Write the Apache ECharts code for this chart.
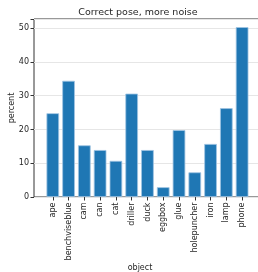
<!DOCTYPE html>
<html>
<head>
<meta charset="utf-8">
<script src="https://cdn.jsdelivr.net/npm/echarts@6/dist/echarts.min.js"></script>
<style>
  html, body { margin: 0; padding: 0; background: #fff; }
  #chart { width: 258px; height: 272px; }
</style>
</head>
<body>
<div id="chart"></div>
<script>
// chart data
var objects = ['ape', 'benchviseblue', 'cam', 'can', 'cat', 'driller', 'duck',
  'eggbox', 'glue', 'holepuncher', 'iron', 'lamp', 'phone'];
var percent = [24.8, 34.4, 15.3, 13.9, 10.7, 30.6, 13.9, 2.9, 19.8, 7.3, 15.7, 26.3, 50.3];
var yTicks = [0, 10, 20, 30, 40, 50];

var font = 'DejaVu Sans';
var textColor = '#262626';

var chart = echarts.init(document.getElementById('chart'));

var option = {
  animation: false,
  backgroundColor: '#fff',
  title: {
    text: 'Correct pose, more noise',
    left: 133,
    top: 3,
    textAlign: 'center',
    textStyle: { fontFamily: font, fontSize: 9.5, fontWeight: 'normal', color: textColor }
  },
  grid: [
    // frame grid: spines + y axis + gridlines
    { left: 34, top: 19, width: 227, bottom: 75, show: true, borderColor: '#333', borderWidth: 1,
      containLabel: false, outerBoundsMode: 'none' },
    // bars grid
    { left: 44.9, top: 19, width: 205.1, bottom: 75, containLabel: false, outerBoundsMode: 'none' }
  ],
  xAxis: [
    {
      gridIndex: 0, type: 'value', min: 0, max: 1,
      name: 'object', nameLocation: 'middle', nameGap: 67, nameMoveOverlap: false,
      nameTextStyle: { fontFamily: font, fontSize: 8, color: textColor, padding: [0, 15, 0, 0] },
      axisLine: { show: false }, axisTick: { show: false },
      axisLabel: { show: false }, splitLine: { show: false }
    },
    {
      gridIndex: 1, type: 'category', data: objects,
      axisLine: { show: false },
      axisTick: { show: true, alignWithLabel: true, length: 3.5, lineStyle: { color: '#333' } },
      axisLabel: { rotate: 90, margin: 5.5, fontFamily: font, fontSize: 8, color: textColor, interval: 0 }
    }
  ],
  yAxis: [
    {
      gridIndex: 0, type: 'value', min: 0, max: 52.7, interval: 10,
      name: 'percent', nameLocation: 'middle', nameGap: 18, nameMoveOverlap: false,
      nameTextStyle: { fontFamily: font, fontSize: 8, color: textColor },
      axisLine: { show: false },
      axisTick: { show: true, length: 3.5, lineStyle: { color: '#333' } },
      axisLabel: {
        margin: 5, fontFamily: font, fontSize: 8, color: textColor,
        formatter: function (v) { return yTicks.indexOf(v) >= 0 ? String(v) : ''; }
      },
      splitLine: { show: true, lineStyle: { color: '#e6e6e6', width: 1 } }
    },
    {
      gridIndex: 1, type: 'value', min: 0, max: 52.7,
      axisLine: { show: false }, axisTick: { show: false },
      axisLabel: { show: false }, splitLine: { show: false }
    }
  ],
  series: [{
    type: 'bar',
    xAxisIndex: 1,
    yAxisIndex: 1,
    data: percent,
    barWidth: '80%',
    itemStyle: { color: '#1f77b4', borderColor: '#9fc4e2', borderWidth: 0.8 }
  }]
};

chart.setOption(option);
</script>
</body>
</html>
